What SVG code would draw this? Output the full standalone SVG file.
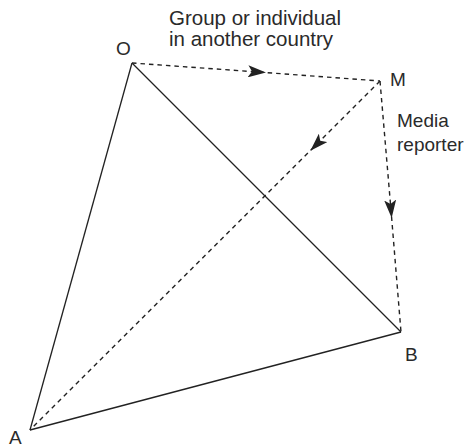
<svg xmlns="http://www.w3.org/2000/svg" width="470" height="448" viewBox="0 0 470 448">
<style>
.s{stroke:#222;stroke-width:1.3;fill:none}
.d{stroke:#222;stroke-width:1.4;fill:none;stroke-dasharray:4.5 4}
text{font-family:"Liberation Sans",Arial,sans-serif;font-size:19px;fill:#2a2a2a}
.big{font-size:20.5px}
</style>
<defs>
<marker id="ah" viewBox="0 0 20 12" refX="10" refY="6" markerWidth="20" markerHeight="12" markerUnits="userSpaceOnUse" orient="auto">
<path d="M0,0 L18,6 L0,12 L4,6 Z" fill="#222"/>
</marker>
</defs>
<g id="connectors">
<line class="s" x1="132" y1="63" x2="30" y2="430"/>
<line class="s" x1="132" y1="63" x2="401" y2="332"/>
<line class="s" x1="30" y1="430" x2="401" y2="332"/>
<polyline class="d" points="132,63 258,72 380,81" marker-mid="url(#ah)"/>
<polyline class="d" points="380,81 316,145 30,430" marker-mid="url(#ah)"/>
<polyline class="d" points="380,81 391,210 401,332" marker-mid="url(#ah)"/>
</g>
<g id="label-group"><text class="big" x="169" y="25">Group or individual</text><text class="big" x="169" y="46">in another country</text></g>
<g id="node-O"><text x="116" y="55">O</text></g>
<g id="node-M"><text x="390" y="86">M</text></g>
<g id="label-media"><text x="397" y="127">Media</text><text x="397" y="151">reporter</text></g>
<g id="node-B"><text x="405" y="361">B</text></g>
<g id="node-A"><text x="9" y="444">A</text></g>
</svg>
